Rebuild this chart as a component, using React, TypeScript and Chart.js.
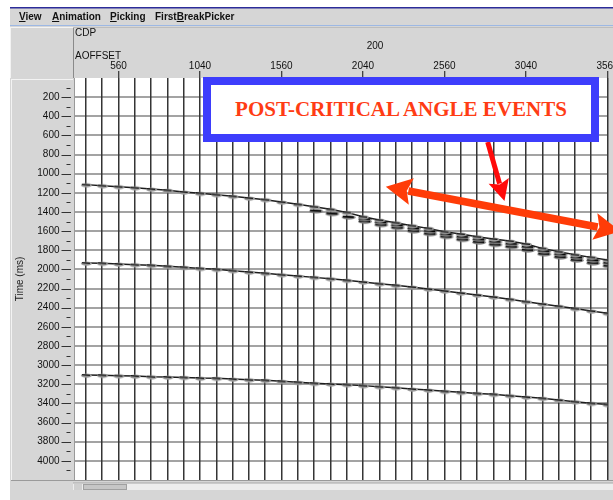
import React, { useEffect, useRef } from "react";
import { Chart, registerables } from "chart.js";

Chart.register(...registerables);

// ---------------- data ----------------
const traceNumbers = [0, 1, 2, 3, 4, 5, 6, 7, 8, 9, 10, 11, 12, 13, 14, 15, 16, 17, 18, 19, 20, 21, 22, 23, 24, 25, 26, 27, 28, 29, 30, 31, 32];
const offsetTickTraces = [2, 7, 12, 17, 22, 27, 32];
const offsetTickLabels = ["560", "1040", "1560", "2040", "2560", "3040", "3560"];

const timeLabelTicks = [200, 400, 600, 800, 1000, 1200, 1400, 1600, 1800, 2000, 2200, 2400, 2600, 2800, 3000, 3200, 3400, 3600, 3800, 4000];
const timeMinorTicks = [100, 300, 500, 700, 900, 1100, 1300, 1500, 1700, 1900, 2100, 2300, 2500, 2700, 2900, 3100, 3300, 3500, 3700, 3900, 4100];

// event times (ms) per trace
const event1Times = [1114, 1125, 1135, 1146, 1160, 1174, 1191, 1205, 1219, 1236, 1254, 1271, 1296, 1320, 1345, 1372, 1404, 1449, 1484, 1512, 1543, 1571, 1606, 1630, 1658, 1682, 1703, 1734, 1780, 1814, 1846, 1874, 1902];
const event1LateTraces = [14, 15, 16, 17, 18, 19, 20, 21, 22, 23, 24, 25, 26, 27, 28, 29, 30, 31, 32];
const event1LateTimes = [1385, 1415, 1450, 1495, 1530, 1560, 1595, 1625, 1655, 1685, 1712, 1738, 1760, 1795, 1835, 1868, 1900, 1930, 1960];
const event1MidTraces = [17, 18, 19, 20, 21, 22, 23, 24, 25, 26, 27, 28, 29, 30, 31, 32];
const event1MidTimes = [1470, 1505, 1535, 1568, 1598, 1630, 1657, 1684, 1708, 1730, 1762, 1806, 1840, 1872, 1902, 1930];
const event2Times = [1933, 1936, 1943, 1950, 1957, 1968, 1978, 1989, 1999, 2013, 2027, 2041, 2055, 2069, 2083, 2097, 2114, 2131, 2149, 2166, 2184, 2205, 2225, 2246, 2267, 2288, 2312, 2337, 2361, 2385, 2409, 2434, 2458];
const event3Times = [3103, 3106, 3110, 3114, 3121, 3124, 3128, 3135, 3138, 3145, 3152, 3159, 3169, 3180, 3190, 3197, 3204, 3214, 3225, 3235, 3249, 3260, 3274, 3284, 3295, 3305, 3319, 3333, 3347, 3364, 3382, 3399, 3412];

// annotation arrows in data coordinates (trace, ms)
const bigArrowFrom = { x: 18.4, y: 1136 };
const bigArrowTo = { x: 32.79, y: 1602 };
const smallArrowFrom = { x: 24.65, y: 669 };
const smallArrowTo = { x: 25.68, y: 1285 };

const menuItems = [
  { key: "V", rest: "iew", left: 19 },
  { key: "A", rest: "nimation", left: 52 },
  { key: "P", rest: "icking", left: 110 },
  { key: "", rest: "FirstBreakPicker", left: 155 },
];

const annotationText = "POST-CRITICAL ANGLE EVENTS";

// ---------------- helpers ----------------
const SANS = "'Liberation Sans', Arial, sans-serif";

function makeGlyph(fill: string, core: string, len: number, coreW: number) {
  const c = document.createElement("canvas");
  c.width = 28;
  c.height = 8;
  const g = c.getContext("2d")!;
  g.fillStyle = fill;
  g.beginPath();
  g.ellipse(14 + len / 2 - 5, 4.6, len / 2, 2.1, 0, 0, Math.PI * 2);
  g.fill();
  g.strokeStyle = core;
  g.lineWidth = coreW;
  g.beginPath();
  g.moveTo(10, 3.6);
  g.lineTo(10 + len - 3, 4.3);
  g.stroke();
  return c;
}

function drawArrow(ctx: CanvasRenderingContext2D, x1: number, y1: number, x2: number, y2: number, w: number, hl: number, hw: number, color: string, both: boolean) {
  const a = Math.atan2(y2 - y1, x2 - x1);
  const ux = Math.cos(a), uy = Math.sin(a);
  const px = -uy, py = ux;
  const sx = both ? x1 + ux * (hl - 3) : x1;
  const sy = both ? y1 + uy * (hl - 3) : y1;
  const ex = x2 - ux * (hl - 3), ey = y2 - uy * (hl - 3);
  ctx.strokeStyle = color;
  ctx.fillStyle = color;
  ctx.lineWidth = w;
  ctx.lineCap = "butt";
  ctx.beginPath();
  ctx.moveTo(sx, sy);
  ctx.lineTo(ex, ey);
  ctx.stroke();
  const head = (tx: number, ty: number, dx: number, dy: number) => {
    const bx = tx - dx * hl, by = ty - dy * hl;
    ctx.beginPath();
    ctx.moveTo(tx, ty);
    ctx.lineTo(bx + px * hw / 2, by + py * hw / 2);
    ctx.lineTo(tx - dx * hl * 0.82, ty - dy * hl * 0.82);
    ctx.lineTo(bx - px * hw / 2, by - py * hw / 2);
    ctx.closePath();
    ctx.fill();
  };
  head(x2, y2, ux, uy);
  if (both) head(x1, y1, -ux, -uy);
}

const chromePlugin = {
  id: "chrome",
  beforeDraw(chart: any) {
    const { ctx, width, height, chartArea: ca } = chart;
    ctx.save();
    ctx.fillStyle = "#ffffff";
    ctx.fillRect(0, 0, width, height);
    ctx.fillStyle = "#d6d6d6";
    ctx.fillRect(10, 8, width - 10, height - 8);
    ctx.fillStyle = "#2c2c9a";
    ctx.fillRect(10, 7, width - 10, 1.5);
    ctx.fillStyle = "#9db8e4";
    ctx.fillRect(10, 25, width - 10, 1);
    ctx.fillStyle = "#f3f3f3";
    ctx.fillRect(10, 27, 63, 1);
    ctx.fillRect(10, 27, 1, 51);
    ctx.fillStyle = "#8a8a8a";
    ctx.fillRect(73, 28, 1, 50);
    ctx.fillStyle = "#bdbdbd";
    ctx.fillRect(73, 27, width - 73, 1);
    ctx.fillStyle = "#f3f3f3";
    ctx.fillRect(11, 79, 1, ca.bottom - 79);
    ctx.fillRect(11, 79, 62, 1);
    ctx.fillStyle = "#ffffff";
    ctx.fillRect(ca.left, ca.top, ca.right - ca.left, ca.bottom - ca.top);
    ctx.fillStyle = "#9a9a9a";
    ctx.fillRect(11, ca.bottom, width - 11, 1);
    ctx.fillStyle = "#ededed";
    ctx.fillRect(73, 483, width - 73, 7);
    ctx.fillStyle = "#a8a8a8";
    ctx.fillRect(73, 482.5, width - 73, 1);
    ctx.fillStyle = "#cfcfcf";
    ctx.fillRect(74, 484, 8, 6);
    ctx.fillStyle = "#c6c6c6";
    ctx.fillRect(83, 484, 44, 6);
    ctx.strokeStyle = "#a0a0a0";
    ctx.lineWidth = 1;
    ctx.strokeRect(83.5, 484.5, 43, 5);
    ctx.restore();
  },
};

const overlayPlugin = {
  id: "overlay",
  afterDraw(chart: any) {
    const { ctx, chartArea: ca } = chart;
    const x = chart.scales.x;
    const y = chart.scales.y;
    ctx.save();
    ctx.strokeStyle = "#333333";
    ctx.lineWidth = 1;
    ctx.beginPath();
    for (const v of timeLabelTicks) {
      const py = Math.round(y.getPixelForValue(v)) + 0.5;
      ctx.moveTo(ca.left - 12.5, py);
      ctx.lineTo(ca.left - 3, py);
    }
    for (const v of timeMinorTicks) {
      const py = Math.round(y.getPixelForValue(v)) + 0.5;
      ctx.moveTo(ca.left - 7.5, py);
      ctx.lineTo(ca.left - 3.5, py);
    }
    ctx.stroke();
    drawArrow(ctx, x.getPixelForValue(bigArrowFrom.x), y.getPixelForValue(bigArrowFrom.y), x.getPixelForValue(bigArrowTo.x), y.getPixelForValue(bigArrowTo.y), 7.5, 26, 27, "#ff3c08", true);
    drawArrow(ctx, x.getPixelForValue(smallArrowFrom.x), y.getPixelForValue(smallArrowFrom.y), x.getPixelForValue(smallArrowTo.x), y.getPixelForValue(smallArrowTo.y), 5, 21, 21, "#ff0a0a", false);
    ctx.restore();
  },
};

export default function App() {
  const canvasRef = useRef<HTMLCanvasElement | null>(null);

  useEffect(() => {
    if (!canvasRef.current) return;
    const glyph = makeGlyph("#9a9a9a", "#141414", 11, 1.3);
    const glyphDark = makeGlyph("#7a7a7a", "#050505", 14, 1.8);
    const labelSet = new Set(offsetTickTraces);
    const majorSet = new Set(timeLabelTicks);
    const allTimeTicks = [...timeLabelTicks, ...timeMinorTicks].sort((a, b) => a - b);

    const lineDs = (times: number[], label: string) => ({
      label,
      data: times.map((t, i) => ({ x: traceNumbers[i], y: t })),
      borderColor: "#1c1c1c",
      borderWidth: 1.5,
      pointStyle: glyph,
      pointRadius: 4,
      pointHoverRadius: 4,
      tension: 0,
    });
    const dotsDs = (traces: number[], times: number[], label: string) => ({
      label,
      data: times.map((t, i) => ({ x: traces[i], y: t })),
      showLine: false,
      pointStyle: glyphDark,
      pointRadius: 4,
      pointHoverRadius: 4,
    });

    const chart = new Chart(canvasRef.current, {
      type: "line",
      data: {
        datasets: [
          lineDs(event1Times, "Event 1"),
          dotsDs(event1MidTraces, event1MidTimes, "Event 1 post-critical a"),
          dotsDs(event1LateTraces, event1LateTimes, "Event 1 post-critical b"),
          lineDs(event2Times, "Event 2"),
          lineDs(event3Times, "Event 3"),
        ] as any,
      },
      options: {
        animation: false,
        responsive: false,
        devicePixelRatio: 1,
        layout: { padding: { left: 0, top: 0, right: 0, bottom: 20 } },
        plugins: { legend: { display: false }, tooltip: { enabled: false } },
        events: [],
        scales: {
          x: {
            type: "linear",
            position: "top",
            min: -0.7287,
            max: 32,
            afterBuildTicks: (s: any) => {
              s.ticks = traceNumbers.map((v) => ({ value: v }));
            },
            afterFit: (s: any) => {
              s.height = 78;
              s.paddingLeft = 0;
              s.paddingRight = 0;
            },
            grid: {
              z: -0.5,
              color: "#353535",
              lineWidth: 1.5,
              tickLength: 7,
              tickWidth: 1,
              tickColor: (c: any) => (labelSet.has(c.tick?.value) ? "#111111" : "rgba(0,0,0,0)"),
            },
            border: { display: false },
            ticks: {
              autoSkip: false,
              maxRotation: 0,
              padding: -1,
              color: "#111111",
              font: { family: SANS, size: 10 },
              callback: (v: any) => {
                const i = offsetTickTraces.indexOf(Number(v));
                return i >= 0 ? offsetTickLabels[i] : "";
              },
            },
          },
          y: {
            type: "linear",
            reverse: true,
            min: 0,
            max: 4200,
            afterBuildTicks: (s: any) => {
              s.ticks = allTimeTicks.map((v) => ({ value: v }));
            },
            afterFit: (s: any) => {
              s.width = 74;
              s.paddingTop = 0;
              s.paddingBottom = 0;
            },
            grid: {
              z: -1,
              drawTicks: false,
              lineWidth: 2,
              color: (c: any) => (majorSet.has(c.tick?.value) ? "#a3a3a3" : "rgba(0,0,0,0)"),
            },
            border: { display: true, color: "#9a9a9a", width: 1 },
            ticks: {
              autoSkip: false,
              padding: 14.5,
              color: "#111111",
              font: { family: SANS, size: 10 },
              callback: (v: any) => (majorSet.has(Number(v)) ? String(v) : ""),
            },
            title: {
              display: true,
              text: "Time (ms)",
              color: "#222222",
              font: { family: SANS, size: 10 },
              padding: { top: 14, bottom: 0 },
            },
          },
        },
      } as any,
      plugins: [chromePlugin, overlayPlugin],
    });
    return () => chart.destroy();
  }, []);

  const menuStyle: React.CSSProperties = {
    position: "absolute",
    top: 9,
    height: 16,
    lineHeight: "16px",
    fontFamily: SANS,
    fontWeight: "bold",
    fontSize: 10,
    color: "#111",
    whiteSpace: "nowrap",
  };
  const headStyle: React.CSSProperties = {
    position: "absolute",
    height: 12,
    lineHeight: "12px",
    fontFamily: SANS,
    fontSize: 10,
    color: "#111",
    whiteSpace: "nowrap",
  };

  return (
    <div style={{ position: "fixed", left: 0, top: 0, width: 613, height: 500, overflow: "hidden", background: "#fff" }}>
      <canvas ref={canvasRef} width={613} height={500} style={{ display: "block", width: 613, height: 500 }} />
      {menuItems.map((m, i) => (
        <div key={i} style={{ ...menuStyle, left: m.left }}>
          {m.key ? (
            <>
              <span style={{ textDecoration: "underline" }}>{m.key}</span>
              {m.rest}
            </>
          ) : (
            <>
              First<span style={{ textDecoration: "underline" }}>B</span>reakPicker
            </>
          )}
        </div>
      ))}
      <div style={{ ...headStyle, left: 75, top: 27 }}>CDP</div>
      <div style={{ ...headStyle, left: 355, width: 40, top: 40, textAlign: "center" }}>200</div>
      <div style={{ ...headStyle, left: 75, top: 50 }}>AOFFSET</div>
      <div
        style={{
          position: "absolute",
          left: 203,
          top: 77,
          width: 396,
          height: 65,
          boxSizing: "border-box",
          border: "8px solid #3d3dfc",
          background: "#ffffff",
          display: "flex",
          alignItems: "center",
          justifyContent: "center",
          fontFamily: "'Liberation Serif', 'Times New Roman', serif",
          fontWeight: "bold",
          fontSize: 21,
          color: "#ff3c14",
          whiteSpace: "nowrap",
        }}
      >
        {annotationText}
      </div>
    </div>
  );
}
